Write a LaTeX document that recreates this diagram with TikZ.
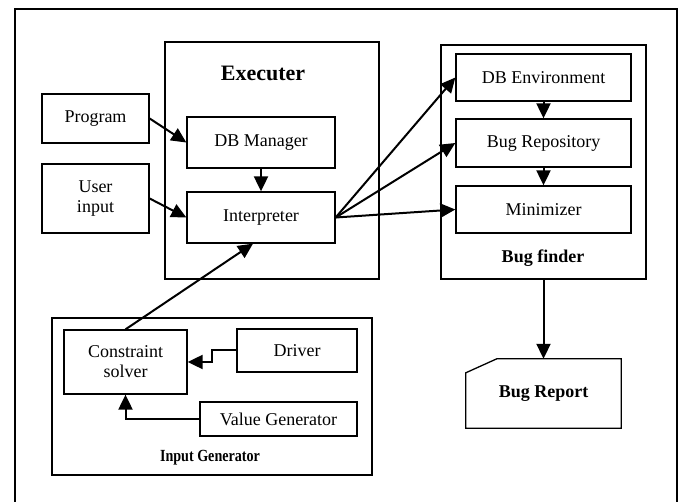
\documentclass[tikz,border=0pt]{standalone}
\usepackage{fontspec}
\setmainfont{Liberation Serif}
\newfontfamily\narrowserif[FakeStretch=0.83]{Liberation Serif}
\usetikzlibrary{arrows.meta}
\begin{document}
\begin{tikzpicture}[x=1pt,y=-1pt,
    box/.style={rectangle,draw,line width=1.3pt,inner sep=0pt,align=center,
      font=\fontsize{18}{20}\selectfont},
    group/.style={rectangle,draw,line width=1.3pt,inner sep=0pt},
    title/.style={font=\fontsize{18}{20}\selectfont\bfseries},
    flow/.style={line width=2pt,-{Triangle[length=15pt,width=14pt]}}]
  \useasboundingbox (0,0) rectangle (683,502);
  \draw[line width=1.3pt] (15,502) |- (677,9) -- (677,502);
  % executer
  \node[group,minimum width=214pt,minimum height=237pt] (exec) at (272,160.5) {};
  \node[title,font=\fontsize{22}{24}\selectfont\bfseries] (execlbl) at (263,73) {Executer};
  \node[box,minimum width=148pt,minimum height=51pt] (dbm) at (261,142.5) {DB Manager};
  \node[box,minimum width=148pt,minimum height=51pt] (interp) at (261,217.5) {Interpreter};
  \node[box,minimum width=107pt,minimum height=49pt] (prog) at (95.5,118.5) {Program};
  \node[box,minimum width=107pt,minimum height=69pt] (user) at (95.5,198.5) {User\\input};
  % bug finder
  \node[group,minimum width=205pt,minimum height=234pt] (finder) at (543.5,162) {};
  \node[title] (finderlbl) at (543,258) {Bug finder};
  \node[box,minimum width=175pt,minimum height=47pt] (dbenv) at (543.5,77.5) {DB Environment};
  \node[box,minimum width=175pt,minimum height=48pt] (repo) at (543.5,143) {Bug Repository};
  \node[box,minimum width=175pt,minimum height=47pt] (mini) at (543.5,209.5) {Minimizer};
  % input generator
  \node[group,minimum width=320pt,minimum height=157pt] (gen) at (212,396.5) {};
  \node[title,font=\fontsize{17}{19}\narrowserif\bfseries] (genlbl) at (210,458) {Input Generator};
  \node[box,minimum width=123pt,minimum height=64pt] (solver) at (125.5,362) {Constraint\\solver};
  \node[box,minimum width=120pt,minimum height=43pt] (driver) at (297,350.5) {Driver};
  \node[box,minimum width=157pt,minimum height=34pt] (valgen) at (278.5,419) {Value Generator};
  % bug report
  \node[title,minimum width=155pt,minimum height=69pt] (report) at (543.5,393.5) {Bug Report};
  \draw[line width=1.3pt] ([yshift=-14pt]report.north west) -- ([xshift=31pt]report.north west)
    -- (report.north east) -- (report.south east) -- (report.south west) -- cycle;
  % arrows
  \draw[flow] (prog.east) -- (dbm.west);
  \draw[flow] (user.east) -- (interp.west);
  \draw[flow] (dbm) -- (interp);
  \draw[flow] (interp.east) -- (dbenv.west);
  \draw[flow] (interp.east) -- (repo.west);
  \draw[flow] (interp.east) -- (mini.west);
  \draw[flow] (dbenv) -- (repo);
  \draw[flow] (repo) -- (mini);
  \draw[flow] (solver.north) -- ([xshift=-8pt]interp.south);
  \draw[flow] (driver.west) -- ++(-24,0) |- (solver.east);
  \draw[flow] (valgen.west) -| (solver.south);
  \draw[flow] (finder.south) -- (report.north);
\end{tikzpicture}
\end{document}
